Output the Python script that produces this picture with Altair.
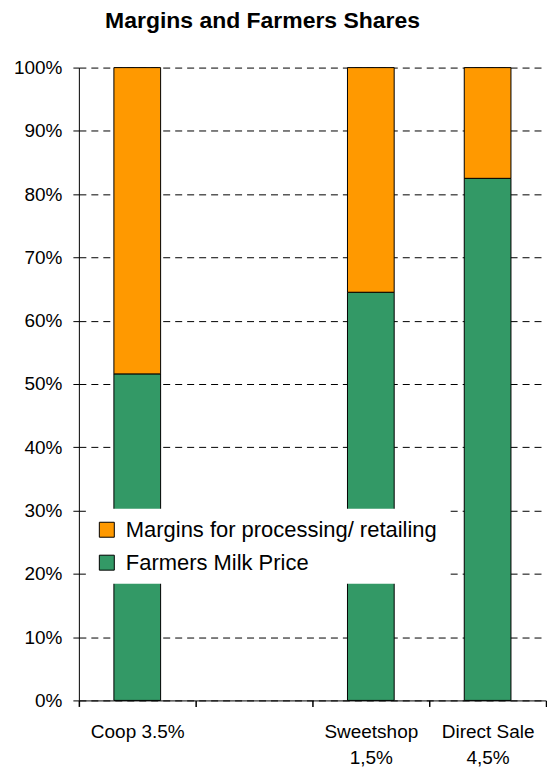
import altair as alt
import pandas as pd

categories = ["Coop 3.5%", " ", "Sweetshop|1,5%", "Direct Sale|4,5%"]
bar_categories = ["Coop 3.5%", "Sweetshop|1,5%", "Direct Sale|4,5%"]
farmers_share = [0.516, 0.645, 0.825]
margins_share = [1 - v for v in farmers_share]
series = ["Margins for processing/ retailing", "Farmers Milk Price"]
colors = ["#FF9900", "#339966"]
y_ticks = [0, 0.1, 0.2, 0.3, 0.4, 0.5, 0.6, 0.7, 0.8, 0.9, 1.0]

rows = []
for c, f, m in zip(bar_categories, farmers_share, margins_share):
    rows.append({"cat": c, "series": series[1], "value": f, "ord": 0})
    rows.append({"cat": c, "series": series[0], "value": m, "ord": 1})
df = pd.DataFrame(rows)

FONT = "Liberation Sans"

chart = alt.Chart(df).mark_bar(stroke="black", strokeWidth=1, width={"band": 0.4}).encode(
    x=alt.X("cat:N", scale=alt.Scale(domain=categories, paddingInner=0, paddingOuter=0),
            axis=alt.Axis(title=None, labelAngle=0, tickBand="extent", tickSize=6,
                          labelPadding=16, labelFontSize=19, labelColor="black",
                          labelFont=FONT, labelLineHeight=26,
                          labelExpr="split(datum.label, '|')", domainColor="black",
                          tickColor="black", tickWidth=1.5, grid=False)),
    y=alt.Y("value:Q", stack="zero", scale=alt.Scale(domain=[0, 1], nice=False),
            axis=alt.Axis(title=None, values=y_ticks, format=".0%", tickSize=6,
                          labelPadding=11, labelFontSize=19, labelColor="black",
                          labelFont=FONT, domainColor="black", tickColor="black",
                          grid=True, gridColor="black", gridDash=[7, 5], gridWidth=1)),
    color=alt.Color("series:N", scale=alt.Scale(domain=series, range=colors),
                    legend=alt.Legend(title=None, orient="none", legendX=7, legendY=442,
                                      fillColor="white", padding=10, symbolType="square",
                                      symbolSize=225, symbolStrokeColor="black",
                                      symbolStrokeWidth=1, labelFontSize=22,
                                      labelFont=FONT, labelColor="black", labelLimit=500,
                                      labelOffset=8, rowPadding=11)),
    order=alt.Order("ord:Q"),
).properties(
    width=468,
    height=634,
    padding={"left": 5, "top": 1, "right": 0, "bottom": 0},
    title=alt.Title("Margins and Farmers Shares", font=FONT, fontSize=23,
                    fontWeight="bold", color="black", anchor="middle", dx=-50, offset=26),
).configure_view(stroke=None)

chart.save("out.html", embed_options={"renderer": "svg", "actions": False})
